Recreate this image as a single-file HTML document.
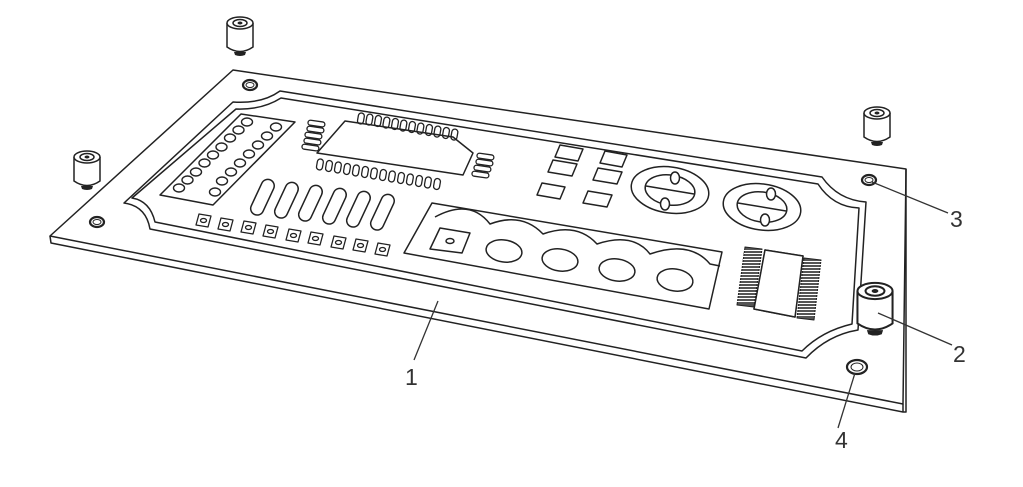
<!DOCTYPE html>
<html><head><meta charset="utf-8"><style>
html,body{margin:0;padding:0;background:#fff;}
svg{display:block}
text{font-family:"Liberation Sans",sans-serif;fill:#333;font-size:23px;}
</style></head><body>
<svg width="1023" height="487" viewBox="0 0 1023 487" xmlns="http://www.w3.org/2000/svg">
<defs>
<g id="so">
<path d="M-13,0 L-13,24 Q0,33 13,24 L13,0" fill="#fff" stroke="#222" stroke-width="1.5"/>
<ellipse cx="0" cy="0" rx="13" ry="6" fill="#fff" stroke="#222" stroke-width="1.5"/>
<ellipse cx="0" cy="0" rx="7" ry="3.5" fill="none" stroke="#222" stroke-width="1.5"/>
<ellipse cx="0" cy="0" rx="2.5" ry="1.5" fill="#222"/>
<path d="M-6,29 L-5,32 Q0,34 5,32 L6,29" fill="#222"/>
</g>
<g id="hole">
<ellipse cx="0" cy="0" rx="7" ry="5" fill="none" stroke="#222" stroke-width="2.2"/>
<ellipse cx="0" cy="0" rx="4" ry="2.5" fill="none" stroke="#222" stroke-width="1"/>
</g>
</defs>
<g fill="none" stroke="#222" stroke-width="1.5" stroke-linejoin="round">
<!-- board -->
<path d="M233,70 L906,169 L903,404 L50,236 Z" fill="#fff"/>
<path d="M50,236 L51,243 L903,412 L906,412 L906,169"/>
<path d="M903,404 L903,412"/>
<!-- inner border -->
<path d="M280,91 L822,177 Q838,200 866,202 L858,330 Q828,335 806,358 L150,229 Q146,206 124,203 L233,102 Q262,104 280,91 Z"/>
<path d="M281,98 L818,184 Q833,207 859,208 L852,324 Q822,331 802,351 L155,222 Q150,201 132,198 L236,109 Q262,110 281,98 Z"/>
<!-- pin header -->
<path d="M241,114 L295,122 L213,205 L160,195 Z"/>
<g stroke-width="1.4">
<ellipse cx="247" cy="122" rx="5.5" ry="4"/><ellipse cx="238.5" cy="130" rx="5.5" ry="4"/><ellipse cx="230" cy="138" rx="5.5" ry="4"/><ellipse cx="221.5" cy="147" rx="5.5" ry="4"/><ellipse cx="213" cy="155" rx="5.5" ry="4"/><ellipse cx="204.5" cy="163" rx="5.5" ry="4"/><ellipse cx="196" cy="172" rx="5.5" ry="4"/><ellipse cx="187.5" cy="180" rx="5.5" ry="4"/><ellipse cx="179" cy="188" rx="5.5" ry="4"/>
<ellipse cx="276" cy="127" rx="5.5" ry="4"/><ellipse cx="267" cy="136" rx="5.5" ry="4"/><ellipse cx="258" cy="145" rx="5.5" ry="4"/><ellipse cx="249" cy="154" rx="5.5" ry="4"/><ellipse cx="240" cy="163" rx="5.5" ry="4"/><ellipse cx="231" cy="172" rx="5.5" ry="4"/><ellipse cx="222" cy="181" rx="5.5" ry="4"/><ellipse cx="215" cy="192" rx="5.5" ry="4"/>
</g>
<!-- IC -->
<path d="M345,121 L453,137 L473,153 L463,175 L317,153 Z"/>
<g stroke-width="1.3">
<rect x="358" y="113" width="6" height="11" rx="3" transform="rotate(10 361 118)"/>
<rect x="366.5" y="114" width="6" height="11" rx="3" transform="rotate(10 369 119)"/>
<rect x="375" y="115.5" width="6" height="11" rx="3" transform="rotate(10 378 121)"/>
<rect x="383.5" y="117" width="6" height="11" rx="3" transform="rotate(10 386 122)"/>
<rect x="392" y="118.5" width="6" height="11" rx="3" transform="rotate(10 395 124)"/>
<rect x="400.5" y="120" width="6" height="11" rx="3" transform="rotate(10 403 125)"/>
<rect x="409" y="121.5" width="6" height="11" rx="3" transform="rotate(10 412 127)"/>
<rect x="417.5" y="123" width="6" height="11" rx="3" transform="rotate(10 420 128)"/>
<rect x="426" y="124.5" width="6" height="11" rx="3" transform="rotate(10 429 130)"/>
<rect x="434.5" y="126" width="6" height="11" rx="3" transform="rotate(10 437 131)"/>
<rect x="443" y="127.5" width="6" height="11" rx="3" transform="rotate(10 446 133)"/>
<rect x="451.5" y="129" width="6" height="11" rx="3" transform="rotate(10 454 134)"/>
<rect x="317" y="159" width="6" height="11" rx="3" transform="rotate(10 320 164)"/>
<rect x="326" y="160.5" width="6" height="11" rx="3" transform="rotate(10 329 166)"/>
<rect x="335" y="162" width="6" height="11" rx="3" transform="rotate(10 338 167)"/>
<rect x="344" y="163.5" width="6" height="11" rx="3" transform="rotate(10 347 169)"/>
<rect x="353" y="165" width="6" height="11" rx="3" transform="rotate(10 356 170)"/>
<rect x="362" y="166.5" width="6" height="11" rx="3" transform="rotate(10 365 172)"/>
<rect x="371" y="168" width="6" height="11" rx="3" transform="rotate(10 374 173)"/>
<rect x="380" y="169.5" width="6" height="11" rx="3" transform="rotate(10 383 175)"/>
<rect x="389" y="171" width="6" height="11" rx="3" transform="rotate(10 392 176)"/>
<rect x="398" y="172.5" width="6" height="11" rx="3" transform="rotate(10 401 178)"/>
<rect x="407" y="174" width="6" height="11" rx="3" transform="rotate(10 410 179)"/>
<rect x="416" y="175.5" width="6" height="11" rx="3" transform="rotate(10 419 181)"/>
<rect x="425" y="177" width="6" height="11" rx="3" transform="rotate(10 428 182)"/>
<rect x="434" y="178.5" width="6" height="11" rx="3" transform="rotate(10 437 184)"/>
<rect x="308" y="121" width="17" height="5" rx="2.5" transform="rotate(8 316 123)"/>
<rect x="307" y="127" width="17" height="5" rx="2.5" transform="rotate(8 315 129)"/>
<rect x="305" y="133" width="17" height="5" rx="2.5" transform="rotate(8 313 135)"/>
<rect x="304" y="139" width="17" height="5" rx="2.5" transform="rotate(8 312 141)"/>
<rect x="302" y="145" width="17" height="5" rx="2.5" transform="rotate(8 310 147)"/>
<rect x="477" y="154" width="17" height="5" rx="2.5" transform="rotate(8 485 156)"/>
<rect x="476" y="160" width="17" height="5" rx="2.5" transform="rotate(8 484 162)"/>
<rect x="474" y="166" width="17" height="5" rx="2.5" transform="rotate(8 482 168)"/>
<rect x="472" y="172" width="17" height="5" rx="2.5" transform="rotate(8 480 174)"/>
</g>
<!-- slots -->
<g>
<rect x="256" y="178" width="13" height="38" rx="6.5" transform="rotate(25 262 197)"/>
<rect x="280" y="181" width="13" height="38" rx="6.5" transform="rotate(25 286 200)"/>
<rect x="304" y="184" width="13" height="38" rx="6.5" transform="rotate(25 310 203)"/>
<rect x="328" y="187" width="13" height="38" rx="6.5" transform="rotate(25 334 206)"/>
<rect x="352" y="190" width="13" height="38" rx="6.5" transform="rotate(25 358 209)"/>
<rect x="376" y="193" width="13" height="38" rx="6.5" transform="rotate(25 382 212)"/>
</g>
<!-- small pads -->
<g stroke-width="1.3">
<g transform="translate(199,220)"><path d="M0,-6 L12,-4 L9,7 L-3,5 Z"/><ellipse cx="4.5" cy="0.5" rx="3" ry="2"/></g>
<g transform="translate(221,224)"><path d="M0,-6 L12,-4 L9,7 L-3,5 Z"/><ellipse cx="4.5" cy="0.5" rx="3" ry="2"/></g>
<g transform="translate(244,227)"><path d="M0,-6 L12,-4 L9,7 L-3,5 Z"/><ellipse cx="4.5" cy="0.5" rx="3" ry="2"/></g>
<g transform="translate(266,231)"><path d="M0,-6 L12,-4 L9,7 L-3,5 Z"/><ellipse cx="4.5" cy="0.5" rx="3" ry="2"/></g>
<g transform="translate(289,235)"><path d="M0,-6 L12,-4 L9,7 L-3,5 Z"/><ellipse cx="4.5" cy="0.5" rx="3" ry="2"/></g>
<g transform="translate(311,238)"><path d="M0,-6 L12,-4 L9,7 L-3,5 Z"/><ellipse cx="4.5" cy="0.5" rx="3" ry="2"/></g>
<g transform="translate(334,242)"><path d="M0,-6 L12,-4 L9,7 L-3,5 Z"/><ellipse cx="4.5" cy="0.5" rx="3" ry="2"/></g>
<g transform="translate(356,245)"><path d="M0,-6 L12,-4 L9,7 L-3,5 Z"/><ellipse cx="4.5" cy="0.5" rx="3" ry="2"/></g>
<g transform="translate(378,249)"><path d="M0,-6 L12,-4 L9,7 L-3,5 Z"/><ellipse cx="4.5" cy="0.5" rx="3" ry="2"/></g>
</g>
<!-- connector -->
<path d="M432,203 L722,252 L709,309 L404,253 Z"/>
<path d="M435,217 Q470,198 490,224 Q522,212 543,234 Q577,222 597,244 Q633,232 650,254 Q690,240 710,264 L720,266"/>
<path d="M440,228 L470,233 L462,253 L430,249 Z"/>
<ellipse cx="450" cy="241" rx="4" ry="2.5"/>
<ellipse cx="504" cy="251" rx="18" ry="11" transform="rotate(8 504 251)"/>
<ellipse cx="560" cy="260" rx="18" ry="11" transform="rotate(8 560 260)"/>
<ellipse cx="617" cy="270" rx="18" ry="11" transform="rotate(8 617 270)"/>
<ellipse cx="675" cy="280" rx="18" ry="11" transform="rotate(8 675 280)"/>
<!-- small squares -->
<path d="M560,145 L583,149 L578,161 L555,157 Z"/>
<path d="M605,151 L627,155 L622,167 L600,163 Z"/>
<path d="M553,160 L577,164 L572,176 L548,172 Z"/>
<path d="M598,168 L622,172 L617,184 L593,180 Z"/>
<path d="M542,183 L565,187 L560,199 L537,195 Z"/>
<path d="M588,191 L612,195 L607,207 L583,203 Z"/>
<!-- round controls -->
<ellipse cx="670" cy="190" rx="39" ry="23" transform="rotate(8 670 190)"/>
<ellipse cx="670" cy="190" rx="25" ry="15" transform="rotate(8 670 190)"/>
<line x1="646" y1="186" x2="694" y2="194"/>
<ellipse cx="675" cy="178" rx="4.5" ry="6" fill="#fff"/>
<ellipse cx="665" cy="204" rx="4.5" ry="6" fill="#fff"/>
<ellipse cx="762" cy="207" rx="39" ry="23" transform="rotate(8 762 207)"/>
<ellipse cx="762" cy="207" rx="25" ry="15" transform="rotate(8 762 207)"/>
<line x1="738" y1="203" x2="786" y2="211"/>
<ellipse cx="771" cy="194" rx="4.5" ry="6" fill="#fff"/>
<ellipse cx="765" cy="220" rx="4.5" ry="6" fill="#fff"/>
<!-- SOIC -->
<path d="M765,250 L803,256 L795,317 L754,309 Z"/>
<path d="M745,247 L762,249 L754,307 L737,305 Z" fill="#555" stroke-width="1"/>
<path d="M804,258 L821,260 L814,320 L797,318 Z" fill="#555" stroke-width="1"/>
<g stroke="#fff" stroke-width="0.9">
<path d="M744,250.5h20M744,253.5h20M743,256.5h20M743,259.5h20M742,262.5h20M742,265.5h20M741,268.5h20M741,271.5h20M740,274.5h20M740,277.5h20M739,280.5h20M739,283.5h20M738,286.5h20M738,289.5h20M737,292.5h20M737,295.5h20M736,298.5h20M736,301.5h20"/>
<path d="M800,261.5h22M800,264.5h22M800,267.5h22M800,270.5h22M799,273.5h22M799,276.5h22M799,279.5h22M798,282.5h22M798,285.5h22M798,288.5h22M797,291.5h22M797,294.5h22M797,297.5h22M796,300.5h22M796,303.5h22M796,306.5h22M795,309.5h22M795,312.5h22M795,315.5h22"/>
</g>
<path d="M765,250 L803,256 L795,317 L754,309 Z" fill="#fff"/>
</g>
<!-- holes -->
<use href="#hole" x="250" y="85"/>
<use href="#hole" x="97" y="222"/>
<use href="#hole" x="869" y="180"/>
<g fill="none" stroke="#222"><ellipse cx="857" cy="367" rx="10" ry="7" stroke-width="2.2"/><ellipse cx="857" cy="367" rx="6" ry="4" stroke-width="1"/></g>
<!-- standoffs -->
<use href="#so" x="240" y="23"/>
<use href="#so" x="87" y="157"/>
<use href="#so" x="877" y="113"/>
<g transform="translate(875,291) scale(1.35)"><use href="#so"/></g>
<!-- leaders -->
<g stroke="#333" stroke-width="1.3" fill="none">
<line x1="438" y1="301" x2="414" y2="360"/>
<line x1="878" y1="313" x2="952" y2="345"/>
<line x1="872" y1="182" x2="948" y2="213"/>
<line x1="855" y1="373" x2="838" y2="428"/>
</g>
<text x="405" y="385">1</text>
<text x="953" y="362">2</text>
<text x="950" y="227">3</text>
<text x="835" y="448">4</text>
</svg>
</body></html>
